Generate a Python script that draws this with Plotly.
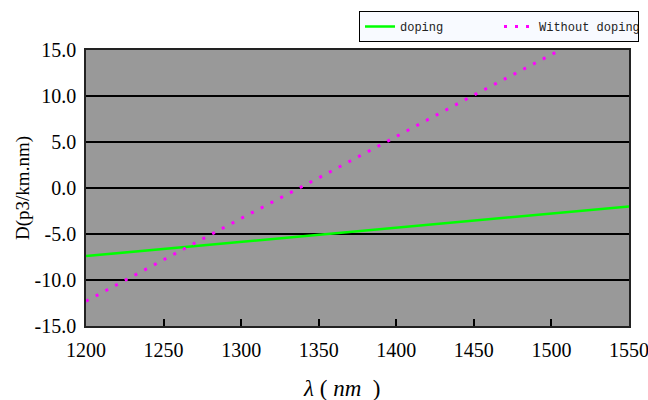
import plotly.graph_objects as go

wavelength = [1200, 1250, 1300, 1350, 1400, 1450, 1500, 1550]
doping = [-7.4, -6.63, -5.86, -5.09, -4.31, -3.54, -2.77, -2.0]
without_doping = [-12.3, -7.8, -3.3, 1.1, 5.6, 10.1, 14.5, 19.0]
y_ticks = [-15, -10, -5, 0, 5, 10, 15]
y_tick_labels = ["-15.0", "-10.0", "-5.0", "0.0", "5.0", "10.0", "15.0"]
x_ticks = [1200, 1250, 1300, 1350, 1400, 1450, 1500, 1550]

fig = go.Figure()
fig.add_trace(go.Scatter(x=wavelength, y=doping, mode="lines", name="doping",
                         line=dict(color="#00FF00", width=2.5)))
fig.add_trace(go.Scatter(x=wavelength, y=without_doping, mode="lines", name="Without doping",
                         line=dict(color="#FF00FF", width=3, dash="3px,8px")))

W, H = 648, 400
L, R, T, B = 86, 629, 50, 326
serif = "Liberation Serif"
fig.update_layout(
    width=W, height=H,
    margin=dict(l=L, r=W - R, t=T, b=H - B, autoexpand=False),
    paper_bgcolor="white",
    plot_bgcolor="#999999",
    showlegend=True,
    legend=dict(
        orientation="h", xref="container", yref="container",
        x=359 / W, y=1 - 11 / H, xanchor="left", yanchor="top",
        bgcolor="#F8FAFF", bordercolor="black", borderwidth=1,
        font=dict(family="Liberation Mono, Courier New, monospace", size=12, color="#222"),
        itemwidth=30, entrywidth=94,
    ),
    xaxis=dict(
        range=[1199.99, 1550.01], tickvals=x_ticks, ticktext=[str(v) for v in x_ticks],
        showgrid=False, zeroline=False, automargin=False, ticklabeloverflow="allow",
        ticks="inside", ticklen=7, tickwidth=1.5, tickcolor="black", ticklabelstandoff=5,
        showline=True, linecolor="#222", linewidth=1.5, mirror=True,
        tickfont=dict(family=serif, size=20, color="black"),
    ),
    yaxis=dict(
        range=[-15, 15], tickvals=y_ticks, ticktext=y_tick_labels, automargin=False,
        showgrid=True, gridcolor="black", gridwidth=1.5, zeroline=False,
        ticks="", showline=True, linecolor="#222", linewidth=1.5, mirror=True,
        ticklabelstandoff=4,
        tickfont=dict(family=serif, size=20, color="black"),
        title=dict(text="D(p3/km.nm)", font=dict(family=serif, size=19, color="black"),
                   standoff=0),
    ),
    annotations=[dict(
        text="<i>λ</i> ( <i>nm</i>  )", xref="paper", yref="paper",
        x=(341 - L) / (R - L), y=-(388 - B) / (B - T), xanchor="center", yanchor="middle",
        showarrow=False, font=dict(family=serif, size=23, color="black"),
    )],
)

fig.write_html("out.html", config={"displayModeBar": False},
               post_script="document.body.style.margin='0';document.body.style.overflow='hidden';")
